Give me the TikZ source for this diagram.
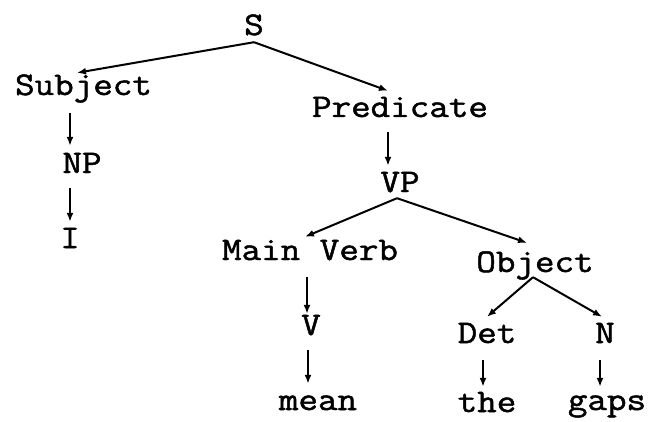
\documentclass[tikz,border=0pt]{standalone}
\usepackage{fontspec}
\usetikzlibrary{arrows.meta}
% typewriter face for all labels
\newfontfamily\twfont{Latin Modern Mono}[FakeStretch=1.15,FakeBold=1.5]
\begin{document}
\begin{tikzpicture}[x=1pt,y=-1pt,
  lbl/.style={anchor=base,inner sep=0pt,text height=20pt,text depth=4pt,
    font=\twfont\fontsize{33}{33}\selectfont},
  branch/.style={line width=2pt,-{Latex[length=9pt,width=7pt]}}]
\useasboundingbox[fill=white] (0,0) rectangle (655,422);
% labels, placed by baseline
\node[lbl] (S)    at (254,35)  {S};
\node[lbl] (subj) at (83.5,95) {Subject};
\node[lbl] (pred) at (400,117) {Predicate};
\node[lbl] (np)   at (82,173)  {NP};
\node[lbl] (i)    at (70,248)  {I};
\node[lbl] (vp)   at (400,192) {VP};
\node[lbl] (mv)   at (310,260) {Main Verb};
\node[lbl] (obj)  at (535,272) {Object};
\node[lbl] (v)    at (311,335) {V};
\node[lbl] (det)  at (487,343) {Det};
\node[lbl] (n)    at (605,343) {N};
\node[lbl] (mean) at (318,410) {mean};
\node[lbl] (the)  at (487,412) {the};
\node[lbl] (gaps) at (607,410) {gaps};
% branches
\draw[branch] ([yshift=-3pt]S.south) -- ([xshift=-6.5pt,yshift=2pt]subj.north);
\draw[branch] ([yshift=-3pt]S.south) -- ([xshift=-12pt,yshift=6pt]pred.north);
\draw[branch] ([xshift=-13.5pt,yshift=-14pt]subj.south) -- ([xshift=-12pt,yshift=7pt]np.north);
\draw[branch] ([xshift=-12pt,yshift=-11pt]np.south) -- ([yshift=6pt]i.north);
\draw[branch] ([xshift=-12pt,yshift=-11pt]pred.south) -- ([xshift=-12pt,yshift=6pt]vp.north);
\draw[branch] ([xshift=-3pt,yshift=-2pt]vp.south) -- ([xshift=-5pt,yshift=3pt]mv.north);
\draw[branch] ([xshift=-3pt,yshift=-2pt]vp.south) -- ([xshift=-8pt,yshift=9pt]obj.north);
\draw[branch] ([xshift=-3pt,yshift=-13pt]mv.south) -- ([xshift=-4pt,yshift=1pt]v.north);
\draw[branch] ([xshift=-3pt,yshift=-11pt]v.south) -- ([xshift=-10pt,yshift=6pt]mean.north);
\draw[branch] ([xshift=-2pt,yshift=-1pt]obj.south) -- ([yshift=6pt]det.north);
\draw[branch] ([xshift=-2pt,yshift=-1pt]obj.south) -- ([xshift=-3pt,yshift=6pt]n.north);
\draw[branch] ([xshift=-4pt,yshift=-13pt]det.south) -- ([xshift=-4pt,yshift=5pt]the.north);
\draw[branch] ([xshift=-5pt,yshift=-13pt]n.south) -- ([xshift=-7pt,yshift=3pt]gaps.north);
\end{tikzpicture}
\end{document}
